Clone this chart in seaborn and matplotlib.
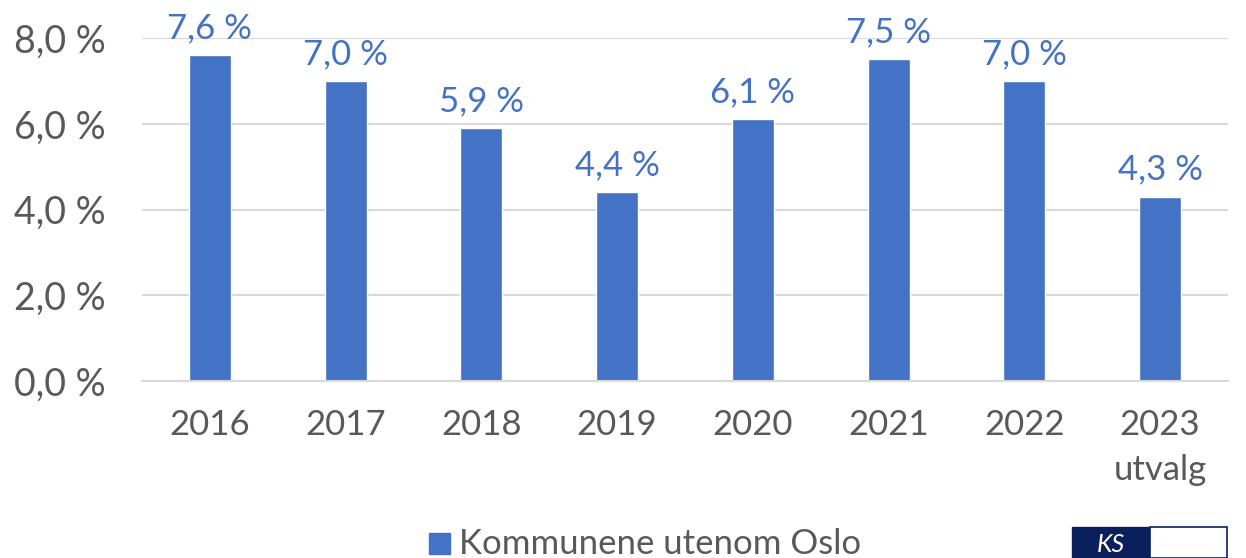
import matplotlib
matplotlib.use("Agg")
import matplotlib.pyplot as plt
import matplotlib.patches as mpatches
import seaborn as sns

## Data
years = ["2016", "2017", "2018", "2019", "2020", "2021", "2022", "2023\nutvalg"]
share = [7.6, 7.0, 5.9, 4.4, 6.1, 7.5, 7.0, 4.3]
y_ticks = [0, 2, 4, 6, 8]
legend_label = "Kommunene utenom Oslo"

blue = "#4472C4"
grey_text = "#595959"

sns.set_style("white")
plt.rcParams["font.family"] = ["Lato", "DejaVu Sans"]

fig = plt.figure(figsize=(12.46, 5.58), dpi=100)
ax = fig.add_axes([142 / 1246, 1 - 381 / 558, (1228 - 142) / 1246, (381 - 38) / 558])

sns.barplot(x=years, y=share, color=blue, width=0.31, saturation=1, ax=ax)

# value labels
labels = [f"{v:.1f} %".replace(".", ",") for v in share]
ax.bar_label(ax.containers[0], labels=labels, padding=8, color=blue, fontsize=25, clip_on=False)

ax.set_ylim(0, 8)
ax.set_xlim(-0.5, len(years) - 0.5)
ax.set_yticks(y_ticks)
ax.set_yticklabels([f"{t:.1f} %".replace(".", ",") for t in y_ticks])
ax.yaxis.grid(True, color="#D9D9D9", linewidth=1.5)
ax.set_axisbelow(True)
for s in ["top", "right", "left"]:
    ax.spines[s].set_visible(False)
ax.spines["bottom"].set_color("#D9D9D9")
ax.spines["bottom"].set_linewidth(1.5)
ax.tick_params(axis="y", length=0, pad=26, labelsize=27, labelcolor=grey_text)
ax.tick_params(axis="x", length=0, pad=20, labelsize=25, labelcolor=grey_text)
for t in ax.get_xticklabels():
    t.set_linespacing(1.5)

# legend
fig.patches.append(mpatches.Rectangle((429 / 1246, 1 - 554 / 558), 21 / 1246, 21 / 558,
                                      transform=fig.transFigure, color=blue))
fig.text(459 / 1246, 1 - 554 / 558, legend_label, fontsize=25, color=grey_text,
         ha="left", va="baseline")

# KS logo corner (partly outside the canvas)
fig.patches.append(mpatches.Rectangle((1072 / 1246, 0), 78 / 1246, 31 / 558,
                                      transform=fig.transFigure, color="#0B1F5C"))
fig.patches.append(mpatches.Rectangle((1150 / 1246, 0), 77 / 1246, 31 / 558,
                                      transform=fig.transFigure, facecolor="white",
                                      edgecolor="#0B1F5C", linewidth=1.2))
fig.text(1111 / 1246, 2 / 558, "KS", fontsize=18, color="white", style="italic",
         ha="center", va="bottom")

fig.savefig("out.png", dpi=100)
